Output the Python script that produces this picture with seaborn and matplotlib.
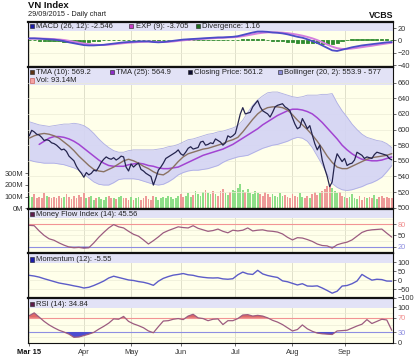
import numpy as np
import pandas as pd
import matplotlib
matplotlib.use("Agg")
import matplotlib.pyplot as plt
from matplotlib.patches import Rectangle
import seaborn as sns

sns.set_style("white")
plt.rcParams['font.family'] = ['Liberation Sans', 'DejaVu Sans']

# ---------------- data ----------------
holidays = ['2015-04-28', '2015-04-29', '2015-04-30', '2015-05-01', '2015-09-02']
month_labels = ['Mar 15', 'Apr', 'May', 'Jun', 'Jul', 'Aug', 'Sep']

close = [
    592, 599, 597, 594, 593, 590, 586, 587, 586, 583,
    582, 580, 577, 574, 575, 572, 566, 563, 560, 553,
    548, 544, 539, 545, 542, 544, 548, 547, 552, 558,
    562, 565, 563, 562, 564, 561, 563, 566, 565, 552,
    547, 556, 552, 555, 557, 549, 547, 544, 542, 540,
    529, 538, 548, 552, 557, 563, 565, 567, 569, 571,
    574, 569, 567, 571, 576, 578, 575, 576, 577, 584,
    585, 580, 581, 583, 582, 588, 586, 584, 580, 583,
    592, 590, 592, 595, 607, 620, 628, 620, 621, 622,
    629, 633, 637, 629, 624, 622, 620, 616, 622, 629,
    631, 632, 633, 629, 627, 624, 615, 607, 601, 603,
    614, 608, 601, 605, 593, 582, 574, 580, 561, 550,
    540, 527, 533, 557, 569, 564, 559, 563, 554, 556,
    557, 561, 571, 569, 567, 563, 565, 564, 563, 568,
    571, 570, 569, 568, 567, 563, 561.2]

volume = [  # millions
    110, 95, 120, 85, 100, 90, 130, 105, 95, 88, 100, 92, 110, 85, 95, 120, 100, 80, 105, 90, 115, 100,
    130, 85, 95, 110, 75, 90, 100, 80, 70, 95, 105, 85, 90, 80, 95, 110, 90, 85, 75,
    100, 70, 85, 95, 75, 90, 110, 80, 70, 105, 95, 75, 85, 100, 90, 110, 95, 80, 90, 105,
    120, 95, 110, 130, 100, 115, 150, 125, 105, 140, 160, 135, 120, 150, 125, 110, 145, 165, 130, 115, 140, 155,
    150, 175, 205, 160, 140, 165, 130, 120, 150, 135, 125, 110, 140, 120, 100, 125, 110, 95, 130, 105, 115, 100, 90,
    120, 105, 95, 130, 100, 90, 110, 85, 125, 140, 115, 130, 150, 165, 190, 200, 170, 150, 130, 140, 110,
    100, 85, 95, 120, 90, 80, 110, 75, 95, 85, 100, 90, 115, 80, 95, 105, 85, 100, 90, 93.14]

# series below are read every second trading day
tma10 = [589, 592, 594, 595, 594, 592, 589, 584, 579, 573,
         566, 560, 554, 549, 547, 546, 549, 552, 556, 560,
         562, 560, 557, 553, 550, 546, 543, 542, 546, 552,
         559, 565, 569, 571, 573, 575, 576, 578, 580, 582,
         585, 587, 590, 597, 605, 613, 620, 625, 628, 629,
         629, 628, 625, 619, 612, 606, 600, 593, 585, 576,
         566, 558, 552, 550, 550, 553, 556, 559, 562, 564,
         565, 566, 567, 569.2]
tma25 = [np.nan, np.nan, 581, 585, 589, 591, 591, 590, 588, 585,
         581, 576, 571, 566, 561, 557, 554, 553, 553, 553,
         555, 556, 557, 556, 554, 553, 551, 550, 550, 551,
         552, 555, 558, 561, 564, 567, 569, 571, 573, 575,
         578, 581, 585, 589, 593, 597, 601, 606, 610, 614,
         618, 621, 624, 626, 626, 625, 623, 620, 615, 609,
         602, 595, 588, 580, 574, 569, 565, 562, 561, 560,
         560, 561, 563, 564.9]
boll_upper = [610, 608, 606, 605, 604, 605, 606, 607, 607, 608,
              607, 605, 601, 595, 588, 582, 577, 573, 571, 571,
              573, 574, 574, 574, 574, 574, 575, 576, 578, 579,
              581, 584, 587, 588, 590, 592, 594, 595, 597, 598,
              600, 602, 605, 612, 622, 631, 638, 643, 647, 648,
              648, 646, 644, 642, 641, 642, 644, 644, 644, 645,
              645, 646, 634, 624, 616, 607, 600, 594, 590, 588,
              586, 585, 582, 577]
boll_lower = [561, 559, 558, 557, 557, 557, 556, 555, 553, 551,
              548, 543, 538, 533, 530, 529, 529, 532, 536, 537,
              537, 537, 536, 534, 532, 530, 529, 530, 533, 537,
              542, 545, 547, 548, 548, 549, 550, 552, 554, 558,
              561, 563, 565, 566, 567, 570, 573, 576, 578, 580,
              581, 583, 585, 588, 590, 589, 585, 577, 566, 555,
              543, 531, 526, 523, 522, 523, 525, 527, 530, 532,
              535, 539, 546, 553.9]
macd = [3.5, 3.5, 3, 2.5, 2, 1.5, 0.5, -1, -3, -4.5,
        -6, -7.5, -8, -8, -7.5, -7, -6, -5, -4, -3,
        -2.5, -2, -1.5, -1.5, -1.5, -2.5, -3, -2.5, -1.5, -0.5,
        0.5, 1.5, 2, 2.5, 3, 3.5, 4, 4.5, 5, 5,
        5.5, 6, 7, 9, 11, 13, 14.5, 14.5, 14, 13,
        12.5, 11.5, 10, 8, 6, 4.5, 2, -1, -4, -8,
        -12, -16, -17, -15, -13, -11, -9.5, -8, -7, -6,
        -5, -4, -3, -2.546]
signal = [3, 3.2, 3.2, 3, 2.6, 2.2, 1.6, 0.8, -0.5, -2,
          -3.5, -5, -6, -6.8, -7.2, -7.2, -6.8, -6, -5.2, -4.3,
          -3.6, -3, -2.5, -2, -1.8, -2, -2.4, -2.5, -2.2, -1.5,
          -0.6, 0.3, 1, 1.6, 2.2, 2.7, 3.2, 3.7, 4.2, 4.5,
          4.9, 5.3, 5.9, 7, 8.5, 10, 11.5, 12.5, 13.2, 13.3,
          13.2, 12.7, 11.9, 10.8, 9.4, 7.8, 5.8, 3.5, 0.6, -2.8,
          -6.5, -10, -12.5, -13.7, -13.8, -13, -12, -10.8, -9.6, -8.5,
          -7.2, -6, -4.8, -3.705]
mfi = [77, 76, 62, 50, 41, 37, 30, 24, 19, 17,
       18, 16, 17, 30, 45, 58, 70, 79, 73, 70,
       61, 53, 48, 38, 27, 36, 46, 57, 63, 68,
       73, 71, 70, 76, 69, 65, 61, 63, 67, 61,
       57, 64, 62, 64, 70, 62, 64, 65, 62, 61,
       59, 54, 45, 38, 44, 43, 39, 34, 27, 23,
       22, 16, 25, 29, 32, 38, 48, 58, 63, 65,
       66, 67, 56, 45.56]
momentum = [27, 23, 17, 8, 0, -8, -16, -21, -26, -32,
            -37, -44, -40, -30, -18, -5, 12, 22, 15, 8,
            1, -2, -8, -12, -19, -29, -6, 10, 20, 28,
            32, 37, 30, 27, 20, 16, 13, 12, 13, 7,
            5, 8, 30, 45, 35, 32, 55, 35, 26, 20,
            15, -4, -9, -18, -27, -20, -33, -34, -32, -44,
            -58, -73, -62, -33, -30, -20, -5, 32, 15, 0,
            5, 3, -5, -5.55]
rsi = [76, 84, 72, 60, 50, 42, 35, 30, 24, 15,
       16, 20, 24, 29, 38, 46, 55, 67, 66, 74,
       60, 53, 48, 42, 33, 28, 45, 61, 62, 66,
       68, 65, 75, 80, 70, 68, 62, 66, 67, 51,
       62, 62, 68, 78, 79, 75, 77, 75, 70, 63,
       58, 51, 42, 33, 37, 50, 39, 32, 27, 25,
       24, 23, 33, 34, 35, 41, 47, 52, 65, 54,
       60, 66, 64, 34.84]

# ---------------- derived helpers ----------------
dates = pd.bdate_range('2015-03-02', '2015-09-29')
dates = dates[~dates.isin(pd.to_datetime(holidays))]
day = np.arange(len(dates))
day2 = day[::2]
month_pos = [int(np.argmax(dates.month == m)) for m in range(3, 10)]
close_a = np.array(close, dtype=float)
up = np.r_[True, close_a[1:] >= close_a[:-1]]
vol_colors = ['#8EDE88' if u else '#EE9A98' for u in up]
diverg = np.array(macd) - np.array(signal)

# ---------------- figure ----------------
W, H = 420, 362
fig = plt.figure(figsize=(W / 100, H / 100), dpi=100, facecolor='white')


def fx(px):
    return px / W


def fy(py):
    return 1 - py / H


L, R = 28, 393


def add_panel(top, bottom):
    return fig.add_axes([fx(L), fy(bottom), (R - L) / W, (bottom - top) / H])


ax_macd = add_panel(22, 67)
ax_main = add_panel(67, 208.5)
ax_mfi = add_panel(208.5, 253)
ax_mom = add_panel(253, 298)
ax_rsi = add_panel(298, 343)

BG = '#FFFFEA'
BAND = '#E2E2F6'
GRID_V = '#DADAC6'
GRID_H = '#ECECD6'
TXT = '#333333'

for ax, band_px in [(ax_macd, 8.5), (ax_main, 18), (ax_mfi, 9.5), (ax_mom, 9.5), (ax_rsi, 9.5)]:
    ax.set_facecolor(BG)
    ax.set_xlim(-0.5, len(day) - 0.5)
    h_ax = ax.get_position().height * H
    ax.add_patch(Rectangle((0, 1 - band_px / h_ax), 1, band_px / h_ax, transform=ax.transAxes,
                           facecolor=BAND, edgecolor='none', zorder=0.6))
    for m in month_pos:
        ax.axvline(m, color=GRID_V, lw=0.6, zorder=0.5)
    for sp in ax.spines.values():
        sp.set_color('#111111')
        sp.set_linewidth(0.8)
    ax.spines['top'].set_linewidth(1.6)
    ax.set_xticks([])
    ax.yaxis.tick_right()
    ax.tick_params(axis='y', labelsize=5.3, colors=TXT, length=2, width=0.5, pad=1.5, right=True)
    ax.set_xlabel('')
    ax.set_ylabel('')

# ---- MACD panel ----
ax_macd.set_ylim(-43, 30)
for v in [20, 0, -20, -40]:
    ax_macd.axhline(v, color=GRID_H, lw=0.5, zorder=0.55)
ax_macd.bar(day2, diverg, width=1.3, color='#2E8B2E', edgecolor='#2E8B2E', lw=0.6, zorder=2)
sns.lineplot(x=day2, y=signal, ax=ax_macd, color='#D47EDE', lw=1.4, zorder=3)
sns.lineplot(x=day2, y=macd, ax=ax_macd, color='#4C4CC8', lw=1.3, zorder=3)
ax_macd.set_yticks([20, 0, -20, -40])
ax_macd.set_xlim(-0.5, len(day) - 0.5)

# ---- Main panel (volume on primary, price on twin) ----
ax_main.set_ylim(0, 1199)
ax_main.bar(day, volume, width=0.72, color=vol_colors, lw=0, zorder=1)
ax_main.yaxis.tick_left()
ax_main.set_yticks([0, 100, 200, 300])
ax_main.set_yticklabels(['0M', '100M', '200M', '300M'])
ax_main.tick_params(axis='y', left=True, right=False, labelleft=True, labelright=False)

ax_price = ax_main.twinx()
ax_price.set_xlim(-0.5, len(day) - 0.5)
ax_price.set_ylim(499, 680)
for v in range(500, 680, 20):
    ax_price.axhline(v, color=GRID_H, lw=0.5, zorder=0.5)
ax_price.fill_between(day2, boll_lower, boll_upper, color='#D3D3F5', alpha=0.9, lw=0, zorder=1)
sns.lineplot(x=day2, y=boll_upper, ax=ax_price, color='#AEAEE4', lw=0.6, zorder=1.5)
sns.lineplot(x=day2, y=boll_lower, ax=ax_price, color='#AEAEE4', lw=0.6, zorder=1.5)
sns.lineplot(x=day2, y=tma25, ax=ax_price, color='#A244D2', lw=1.1, zorder=2)
sns.lineplot(x=day2, y=tma10, ax=ax_price, color='#8A7262', lw=1.0, zorder=2.5)
sns.lineplot(x=day, y=close, ax=ax_price, color='#24244E', lw=0.9, zorder=3)
ax_price.set_yticks(list(range(500, 661, 20)))
ax_price.tick_params(axis='y', labelsize=5.3, colors=TXT, length=2, width=0.5, pad=1.5)
ax_price.set_xticks([])
for sp in ax_price.spines.values():
    sp.set_visible(False)
ax_price.set_ylabel('')

# ---- MFI ----
ax_mfi.set_ylim(3, 122)
for v in [35, 50, 65, 95, 110]:
    ax_mfi.axhline(v, color=GRID_H, lw=0.5, zorder=0.55)
ax_mfi.axhline(80, color='#F29494', lw=0.8, zorder=1)
ax_mfi.axhline(20, color='#8E8EE2', lw=0.8, zorder=1)
ax_mfi.fill_between(day2, mfi, 20, where=np.array(mfi) < 20, interpolate=True,
                    color='#4C4CD0', lw=0, zorder=1.5)
ax_mfi.fill_between(day2, mfi, 80, where=np.array(mfi) > 80, interpolate=True,
                    color='#E06868', lw=0, zorder=1.5)
sns.lineplot(x=day2, y=mfi, ax=ax_mfi, color='#9C5C80', lw=0.9, zorder=2)
ax_mfi.set_yticks([80, 50, 20])
for lab, c in zip(ax_mfi.get_yticklabels(), ['#F08C8C', TXT, '#8C8CE0']):
    lab.set_color(c)

# ---- Momentum ----
ax_mom.set_ylim(-100, 152)
for v in [100, 50, 0, -50]:
    ax_mom.axhline(v, color=GRID_H, lw=0.5, zorder=0.55)
sns.lineplot(x=day2, y=momentum, ax=ax_mom, color='#5C5CC8', lw=1.0, zorder=2)
ax_mom.set_yticks([100, 50, 0, -50, -100])

# ---- RSI ----
ax_rsi.set_ylim(-1, 126)
for v in [15, 50, 85, 100]:
    ax_rsi.axhline(v, color=GRID_H, lw=0.5, zorder=0.55)
ax_rsi.axhline(70, color='#F29494', lw=0.8, zorder=1)
ax_rsi.axhline(30, color='#8E8EE2', lw=0.8, zorder=1)
rsi_a = np.array(rsi)
ax_rsi.fill_between(day2, rsi, 70, where=rsi_a > 70, interpolate=True, color='#E06868', lw=0, zorder=1.5)
ax_rsi.fill_between(day2, rsi, 30, where=rsi_a < 30, interpolate=True, color='#4C4CD0', lw=0, zorder=1.5)
sns.lineplot(x=day2, y=rsi, ax=ax_rsi, color='#9C5C80', lw=0.9, zorder=2)
ax_rsi.set_yticks([100, 70, 30, 0])
for lab, c in zip(ax_rsi.get_yticklabels(), [TXT, '#F08C8C', '#8C8CE0', TXT]):
    lab.set_color(c)
ax_rsi.set_xticks(month_pos)
ax_rsi.set_xticklabels(month_labels)
ax_rsi.tick_params(axis='x', labelsize=5.4, colors=TXT, length=2, width=0.5, pad=2.5, bottom=True)
ax_rsi.get_xticklabels()[0].set_fontweight('bold')
ax_rsi.get_xticklabels()[0].set_color('#111111')

for ax in [ax_macd, ax_main, ax_mfi, ax_mom, ax_rsi]:
    ax.set_xlim(-0.5, len(day) - 0.5)
    ax.set_xlabel('')
    ax.set_ylabel('')


# ---- legends ----
def legend_item(px, py, color, text, edge='#202020'):
    fig.add_artist(Rectangle((fx(px), fy(py + 2.2)), 4.4 / W, 4.4 / H, transform=fig.transFigure,
                             facecolor=color, edgecolor=edge, lw=0.4, zorder=10))
    fig.text(fx(px + 6.5), fy(py), text, fontsize=5.5, color='#222222', ha='left', va='center', zorder=10)


legend_item(30, 26, '#1C1CA8', 'MACD (26, 12): -2.546')
legend_item(129, 26, '#C83CC8', 'EXP (9): -3.705')
legend_item(196, 26, '#1E6E1E', 'Divergence: 1.16')
legend_item(30, 72, '#5C3317', 'TMA (10): 569.2')
legend_item(110, 72, '#8E2DC8', 'TMA (25): 564.9')
legend_item(188, 72, '#0C0C30', 'Closing Price: 561.2')
legend_item(278, 72, '#8C8CDA', 'Bollinger (20, 2): 553.9 - 577')
legend_item(30, 80.5, '#F4A4A4', 'Vol: 93.14M', edge='#C04848')
legend_item(30, 214, '#5E1A4A', 'Money Flow Index (14): 45.56')
legend_item(30, 259.3, '#1C1CA8', 'Momentum (12): -5.55')
legend_item(30, 304, '#5E1A4A', 'RSI (14): 34.84')

# ---- titles ----
fig.text(fx(28), fy(5.5), 'VN Index', fontsize=6.8, fontweight='bold', color='#111111', ha='left', va='center')
fig.text(fx(28), fy(15), '29/09/2015 - Daily chart', fontsize=5.3, color='#222222', ha='left', va='center')
fig.text(fx(393), fy(15), 'VCBS', fontsize=6.4, fontweight='bold', color='#111111', ha='right', va='center')

fig.savefig('out.png', dpi=100, facecolor='white')
